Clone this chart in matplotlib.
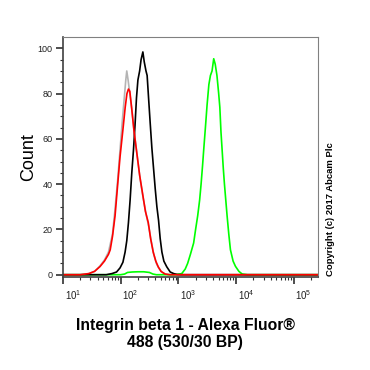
import numpy as np
import matplotlib.pyplot as plt
import matplotlib.transforms as mtransforms

plt.rcParams['font.family'] = ['Liberation Sans', 'DejaVu Sans']
plt.rcParams['mathtext.fontset'] = 'custom'
plt.rcParams['mathtext.rm'] = 'Liberation Sans'

# histogram traces: log10(intensity) and count
gray_log = [1.0, 1.30, 1.45, 1.55, 1.64, 1.72, 1.79, 1.86, 1.90, 1.95, 1.99, 2.03, 2.07, 2.09, 2.107,
            2.13, 2.16, 2.20, 2.24, 2.29, 2.34, 2.39, 2.44, 2.49, 2.53, 2.575, 2.62, 2.66, 2.71, 2.78, 2.86, 5.42]
gray_cnt = [0, 0, 0.5, 1.5, 3.8, 6.5, 10, 18, 28, 42, 55, 68, 80, 86, 90,
            86, 80, 72, 62, 52, 42, 34, 27, 21, 15, 9, 5, 3, 1.2, 0.3, 0, 0]

red_log = [1.0, 1.30, 1.45, 1.55, 1.643, 1.72, 1.79, 1.82, 1.86, 1.904, 1.95, 1.99, 2.04, 2.08, 2.11,
           2.136, 2.16, 2.19, 2.23, 2.28, 2.33, 2.38, 2.43, 2.48, 2.52, 2.565, 2.61, 2.652, 2.70, 2.77, 2.85, 5.42]
red_cnt = [0, 0, 0.5, 1.5, 3.6, 6, 9, 11, 17, 26, 40, 52, 64, 74, 80,
           82, 81, 74, 64, 54, 44, 36, 28, 23, 16, 10, 6, 3.5, 1.5, 0.3, 0, 0]

black_log = [1.0, 1.75, 1.85, 1.93, 1.99, 2.04, 2.078, 2.107, 2.136, 2.165, 2.194, 2.223, 2.25, 2.275, 2.30,
             2.33, 2.355, 2.386, 2.41, 2.44, 2.46, 2.485, 2.513, 2.542, 2.571, 2.60, 2.629, 2.658, 2.686,
             2.716, 2.75, 2.80, 2.86, 2.92, 2.98, 3.05, 5.42]
black_cnt = [0, 0, 0.5, 1.2, 3, 5.5, 10, 15, 23, 33, 45, 55, 66, 78, 86,
             90, 95, 98.4, 94, 90, 88, 78, 67, 56, 47, 38, 30, 24, 16,
             10, 6, 3.5, 1.2, 0.5, 0.1, 0, 0]

green_log = [1.0, 2.0, 2.07, 2.12, 2.2, 2.3, 2.4, 2.5, 2.56, 2.62, 2.95, 3.06, 3.12, 3.162, 3.21, 3.266,
             3.30, 3.336, 3.37, 3.395, 3.42, 3.44, 3.47, 3.499, 3.53, 3.557, 3.585, 3.614, 3.64, 3.67,
             3.70, 3.72, 3.74, 3.76, 3.78, 3.80, 3.846, 3.875, 3.904, 3.95, 3.991, 4.05, 4.107, 4.2, 5.42]
green_cnt = [0, 0, 0.3, 1, 1.2, 1.3, 1.3, 1, 0.3, 0, 0, 0.5, 2.5, 5, 9, 14,
             20, 26, 33, 40, 48, 55, 65, 75, 84, 88, 90, 95.4, 93, 88,
             80, 74, 63, 55, 47, 40, 26, 18, 11, 6, 3.7, 1.5, 0.3, 0, 0]

x_ticks = [1e1, 1e2, 1e3, 1e4, 1e5]
x_labels = ['$10^{1}$', '$10^{2}$', '$10^{3}$', '$10^{4}$', '$10^{5}$']
y_ticks = [0, 20, 40, 60, 80, 100]

fig = plt.figure(figsize=(3.7, 3.7), dpi=100)
ax = fig.add_axes([0.170, 0.2514, 0.689, 0.6486])

ax.plot(10 ** np.array(gray_log), gray_cnt, color='#b4b4b4', lw=1.2)
ax.plot(10 ** np.array(green_log), green_cnt, color='#00ff00', lw=1.2)
ax.plot(10 ** np.array(black_log), black_cnt, color='black', lw=1.2)
ax.plot(10 ** np.array(red_log), red_cnt, color='#ff0000', lw=1.2)

ax.set_xscale('log')
ax.set_xlim(10, 262144)
ax.set_ylim(-1, 105)

ax.set_xticks(x_ticks)
ax.set_xticklabels(x_labels, fontsize=7)
ax.set_yticks(y_ticks)
ax.set_yticks(np.arange(0, 101, 5), minor=True)
ax.set_yticklabels([str(v) for v in y_ticks], fontsize=6.5)

ax.tick_params(axis='both', which='major', length=5, width=1.2, color='#303030', labelcolor='#202020')
ax.tick_params(axis='both', which='minor', length=2.5, width=0.8, color='#303030')
ax.tick_params(axis='x', pad=3)
ax.tick_params(axis='y', pad=2.5)

# FlowJo puts the decade labels a little right of the tick
offset = mtransforms.ScaledTranslation(0.1, 0, fig.dpi_scale_trans)
for lbl in ax.get_xticklabels():
    lbl.set_transform(lbl.get_transform() + offset)

for side in ['left', 'bottom']:
    ax.spines[side].set_color('#404040')
    ax.spines[side].set_linewidth(1.2)
for side in ['top', 'right']:
    ax.spines[side].set_color('#808080')
    ax.spines[side].set_linewidth(0.8)

ax.set_ylabel('Count', fontsize=13, labelpad=0)
fig.text(0.5, 0.097, 'Integrin beta 1 - Alexa Fluor\u00ae\n488 (530/30 BP)', ha='center', va='center',
         fontsize=11.3, fontweight='bold', linespacing=1.15)
fig.text(0.892, 0.435, 'Copyright (c) 2017 Abcam Plc', rotation=90, ha='center', va='center',
         fontsize=6.8, fontweight='bold')

fig.savefig('out.png', dpi=100)
